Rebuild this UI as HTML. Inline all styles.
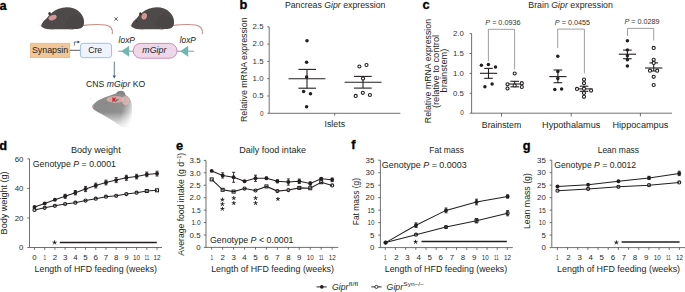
<!DOCTYPE html>
<html><head><meta charset="utf-8"><style>
html,body{margin:0;padding:0;background:#fff;}
svg{display:block;font-family:"Liberation Sans", sans-serif;}
</style></head><body>
<svg width="685" height="292" viewBox="0 0 685 292">
<rect width="685" height="292" fill="#fff"/>
<text x="-0.60" y="9.50" font-size="12.8" font-weight="bold" fill="#000" stroke="#000" stroke-width="0.3">a</text>
<text x="239.40" y="8.70" font-size="12.8" font-weight="bold" fill="#000" stroke="#000" stroke-width="0.3">b</text>
<text x="422.40" y="9.40" font-size="12.8" font-weight="bold" fill="#000" stroke="#000" stroke-width="0.3">c</text>
<text x="-0.70" y="149.50" font-size="12.8" font-weight="bold" fill="#000" stroke="#000" stroke-width="0.3">d</text>
<text x="175.90" y="149.50" font-size="12.8" font-weight="bold" fill="#000" stroke="#000" stroke-width="0.3">e</text>
<text x="351.20" y="149.40" font-size="12.8" font-weight="bold" fill="#000" stroke="#000" stroke-width="0.3">f</text>
<text x="522.80" y="150.00" font-size="12.8" font-weight="bold" fill="#000" stroke="#000" stroke-width="0.3">g</text>
<g transform="translate(0,0)"><path d="M83,25.4 C90,24.6 99,24.1 105.5,25.0 C110.5,25.8 113.2,29 112.3,33.6" fill="none" stroke="#c68c89" stroke-width="1.2" stroke-linecap="round"/><path d="M41.0,25.6 C42.5,22.5 44.5,20 46.5,18.6 C48,16.5 50,14.2 52.5,12.3 C56,9.4 61,7.4 66.6,7.3 C72,7.3 76.5,9 80,12.4 C82.8,15.2 84.3,19 84.1,22.4 C84,25.8 82.6,27.6 80,28.6 C76,29.4 70,29.3 64,29.3 L52,29.3 C48,29.3 45,28.9 43.2,27.8 C42,27.2 41.3,26.5 41.0,25.6 Z" fill="#4e4a49"/><path d="M70,16 C76,14 81,17 83.5,22 C83.5,26 81,28.3 76,28.8 C70,29 66,27 65,24 Z" fill="#3d3837" opacity="0.2"/><ellipse cx="52.6" cy="17.6" rx="4.2" ry="2.5" fill="#cf9896" transform="rotate(-20 52.6 17.6)"/><ellipse cx="49.6" cy="13.6" rx="1.3" ry="1.7" fill="#3a3535"/><path d="M50,29.2 L53.5,29.7 M70,29.2 L73.5,29.6" stroke="#c8918e" stroke-width="0.8"/><path d="M41.2,25 L38.5,23.5 M41.2,25.3 L38.3,25.8" stroke="#ddd" stroke-width="0.3"/></g>
<g transform="translate(90,0)"><path d="M83,25.4 C90,24.6 99,24.1 105.5,25.0 C110.5,25.8 113.2,29 112.3,33.6" fill="none" stroke="#c68c89" stroke-width="1.2" stroke-linecap="round"/><path d="M41.0,25.6 C42.5,22.5 44.5,20 46.5,18.6 C48,16.5 50,14.2 52.5,12.3 C56,9.4 61,7.4 66.6,7.3 C72,7.3 76.5,9 80,12.4 C82.8,15.2 84.3,19 84.1,22.4 C84,25.8 82.6,27.6 80,28.6 C76,29.4 70,29.3 64,29.3 L52,29.3 C48,29.3 45,28.9 43.2,27.8 C42,27.2 41.3,26.5 41.0,25.6 Z" fill="#4e4a49"/><path d="M70,16 C76,14 81,17 83.5,22 C83.5,26 81,28.3 76,28.8 C70,29 66,27 65,24 Z" fill="#3d3837" opacity="0.2"/><ellipse cx="54.2" cy="16.3" rx="2.7" ry="3.3" fill="#cf9896" transform="rotate(15 54.2 16.3)"/><ellipse cx="50.4" cy="13.9" rx="1.3" ry="1.7" fill="#3a3535"/><circle cx="46.7" cy="21.3" r="0.6" fill="#1a1a1a"/><path d="M50,29.2 L53.5,29.7 M70,29.2 L73.5,29.6" stroke="#c8918e" stroke-width="0.8"/><path d="M41.2,25 L38.5,23.5 M41.2,25.3 L38.3,25.8" stroke="#ddd" stroke-width="0.3"/></g>
<path d="M114.5,17.3 L117.7,20.7 M117.7,17.3 L114.5,20.7" stroke="#333" stroke-width="0.8"/>
<rect x="30.4" y="43.2" width="39.4" height="14.5" fill="#f2c797" stroke="#e3ae78" stroke-width="0.6"/>
<text x="50.10" y="53.10" font-size="8.8" text-anchor="middle" textLength="36.2" lengthAdjust="spacingAndGlyphs" fill="#222">Synapsin</text>
<line x1="69.80" y1="50.30" x2="80.40" y2="50.30" stroke="#333" stroke-width="0.8"/>
<path d="M74.3,45.6 L74.3,42 L78.2,42" fill="none" stroke="#2f4163" stroke-width="0.7"/>
<path d="M77.6,40.6 L80,42 L77.6,43.4 Z" fill="#2f4163"/>
<rect x="80.4" y="43.3" width="31.1" height="14.4" rx="2.8" fill="#eef3fd" stroke="#9bbaf2" stroke-width="0.95"/>
<text x="95.20" y="53.10" font-size="8.8" text-anchor="middle" textLength="14" lengthAdjust="spacingAndGlyphs" fill="#222">Cre</text>
<line x1="118.30" y1="51.20" x2="194.10" y2="51.20" stroke="#7a7a7a" stroke-width="0.8"/>
<path d="M121.2,51.2 L129.2,45.8 L129.2,56.8 Z" fill="#6fb7ae"/>
<path d="M180.3,51.2 L188.2,45.8 L188.2,56.8 Z" fill="#6fb7ae"/>
<rect x="133.2" y="43.4" width="43.8" height="14.8" rx="7.4" fill="#eed8e8" stroke="#cb85b8" stroke-width="0.95"/>
<text x="154.40" y="53.00" font-size="8.8" text-anchor="middle" font-style="italic" textLength="24.1" lengthAdjust="spacingAndGlyphs" fill="#222">mGipr</text>
<text x="118.60" y="42.60" font-size="8.4" font-style="italic" textLength="16.4" lengthAdjust="spacingAndGlyphs" fill="#222">loxP</text>
<text x="179.70" y="42.60" font-size="8.4" font-style="italic" textLength="16.1" lengthAdjust="spacingAndGlyphs" fill="#222">loxP</text>
<line x1="114.30" y1="61.60" x2="114.30" y2="76.50" stroke="#3e5a80" stroke-width="0.8"/>
<path d="M112.6,75.5 L114.3,78.6 L116,75.5 Z" fill="#3e5a80"/>
<text x="115.60" y="86.80" font-size="8.7" text-anchor="middle" textLength="59.2" lengthAdjust="spacingAndGlyphs" fill="#222">CNS <tspan font-style="italic">mGipr</tspan> KO</text>
<defs><linearGradient id="hg" gradientUnits="userSpaceOnUse" x1="108" y1="104" x2="134" y2="112"><stop offset="0" stop-color="#8c8b8b"/><stop offset="0.55" stop-color="#929191"/><stop offset="0.85" stop-color="#d2d2d2"/><stop offset="1" stop-color="#ffffff"/></linearGradient><linearGradient id="hg2" gradientUnits="userSpaceOnUse" x1="0" y1="112" x2="0" y2="127"><stop offset="0" stop-color="#fff" stop-opacity="0"/><stop offset="1" stop-color="#fff" stop-opacity="0.9"/></linearGradient></defs>
<path d="M92.1,106.8 C93,103.5 99,99.5 105,97.3 C109,95.8 113,94.8 116,93.6 C117,91.6 119,90.5 121.5,90.8 C124,91.2 125.2,93 125.6,95.2 C128.5,96.2 131,99.2 131.6,104 C132.2,110 132.2,118 131.6,126.5 L122,126.5 C116,122.5 108,117.8 101,113.8 C96,111.2 92.6,109.2 92.1,106.8 Z" fill="url(#hg)"/>
<path d="M92.1,106.8 C93,103.5 99,99.5 105,97.3 C109,95.8 113,94.8 116,93.6 C117,91.6 119,90.5 121.5,90.8 C124,91.2 125.2,93 125.6,95.2 C128.5,96.2 131,99.2 131.6,104 C132.2,110 132.2,118 131.6,126.5 L122,126.5 C116,122.5 108,117.8 101,113.8 C96,111.2 92.6,109.2 92.1,106.8 Z" fill="url(#hg2)"/>
<path d="M116.2,93.8 C117.3,91.8 119.3,90.8 121.5,91 C123.5,91.4 124.8,93 125.2,95 Z" fill="#858383"/>
<ellipse cx="115.5" cy="99.4" rx="9.0" ry="3.4" fill="#ddb0ad" opacity="0.85"/>
<ellipse cx="125.6" cy="100.6" rx="3.8" ry="4.6" fill="#e2b9b5" opacity="0.75"/>
<ellipse cx="105.3" cy="103.2" rx="1.6" ry="1.0" fill="#9a7f7f" opacity="0.8"/>
<ellipse cx="92.8" cy="106.5" rx="0.9" ry="1.2" fill="#d9a7a3"/>
<path d="M92,99 L90.5,97.5 M92.5,99.5 L90.6,99.8" stroke="#ddd" stroke-width="0.35"/>
<text x="115.40" y="100.80" font-size="3.2" text-anchor="middle" fill="#3a2a2a">m  pr</text>
<path d="M112.4,97.6 L115.6,101.6 M115.6,97.6 L112.4,101.6" stroke="#d8232a" stroke-width="1.3"/>
<text x="335.20" y="7.60" font-size="8.2" text-anchor="middle" textLength="100.5" lengthAdjust="spacingAndGlyphs" fill="#231f20">Pancreas <tspan font-style="italic">Gipr</tspan> expression</text>
<text transform="translate(247.00,69.70) rotate(-90)" x="0" y="0" font-size="8.4" text-anchor="middle" textLength="104.6" lengthAdjust="spacingAndGlyphs" fill="#231f20">Relative mRNA expression</text>
<line x1="269.20" y1="26.80" x2="269.20" y2="113.30" stroke="#4d4d4d" stroke-width="0.8"/>
<line x1="269.20" y1="113.30" x2="400.40" y2="113.30" stroke="#4d4d4d" stroke-width="0.8"/>
<line x1="267.30" y1="113.30" x2="269.20" y2="113.30" stroke="#4d4d4d" stroke-width="0.8"/>
<text x="263.50" y="115.50" font-size="6.4" text-anchor="end" fill="#333">0</text>
<line x1="267.30" y1="96.00" x2="269.20" y2="96.00" stroke="#4d4d4d" stroke-width="0.8"/>
<text x="263.50" y="98.20" font-size="6.4" text-anchor="end" textLength="10.9" lengthAdjust="spacingAndGlyphs" fill="#333">0.5</text>
<line x1="267.30" y1="78.70" x2="269.20" y2="78.70" stroke="#4d4d4d" stroke-width="0.8"/>
<text x="263.50" y="80.90" font-size="6.4" text-anchor="end" textLength="10.9" lengthAdjust="spacingAndGlyphs" fill="#333">1.0</text>
<line x1="267.30" y1="61.40" x2="269.20" y2="61.40" stroke="#4d4d4d" stroke-width="0.8"/>
<text x="263.50" y="63.60" font-size="6.4" text-anchor="end" textLength="10.9" lengthAdjust="spacingAndGlyphs" fill="#333">1.5</text>
<line x1="267.30" y1="44.10" x2="269.20" y2="44.10" stroke="#4d4d4d" stroke-width="0.8"/>
<text x="263.50" y="46.30" font-size="6.4" text-anchor="end" textLength="10.9" lengthAdjust="spacingAndGlyphs" fill="#333">2.0</text>
<line x1="267.30" y1="26.80" x2="269.20" y2="26.80" stroke="#4d4d4d" stroke-width="0.8"/>
<text x="263.50" y="29.00" font-size="6.4" text-anchor="end" textLength="10.9" lengthAdjust="spacingAndGlyphs" fill="#333">2.5</text>
<line x1="334.70" y1="113.30" x2="334.70" y2="115.60" stroke="#4d4d4d" stroke-width="0.8"/>
<text x="334.80" y="127.00" font-size="8.4" text-anchor="middle" textLength="20.5" lengthAdjust="spacingAndGlyphs" fill="#231f20">Islets</text>
<circle cx="307.00" cy="40.70" r="1.75" fill="#231f20"/>
<circle cx="306.60" cy="62.30" r="1.75" fill="#231f20"/>
<circle cx="306.60" cy="77.10" r="1.75" fill="#231f20"/>
<circle cx="303.60" cy="91.60" r="1.75" fill="#231f20"/>
<circle cx="310.50" cy="93.80" r="1.75" fill="#231f20"/>
<circle cx="306.60" cy="106.70" r="1.75" fill="#231f20"/>
<line x1="288.50" y1="78.70" x2="325.40" y2="78.70" stroke="#231f20" stroke-width="1.1"/>
<line x1="298.40" y1="69.40" x2="316.00" y2="69.40" stroke="#231f20" stroke-width="1.1"/>
<line x1="298.40" y1="88.20" x2="316.00" y2="88.20" stroke="#231f20" stroke-width="1.1"/>
<line x1="307.00" y1="69.40" x2="307.00" y2="88.20" stroke="#231f20" stroke-width="1.1"/>
<line x1="344.60" y1="82.30" x2="381.60" y2="82.30" stroke="#231f20" stroke-width="1.1"/>
<line x1="354.00" y1="76.40" x2="371.70" y2="76.40" stroke="#231f20" stroke-width="1.1"/>
<line x1="354.00" y1="88.10" x2="371.70" y2="88.10" stroke="#231f20" stroke-width="1.1"/>
<line x1="363.00" y1="76.40" x2="363.00" y2="88.10" stroke="#231f20" stroke-width="1.1"/>
<circle cx="359.40" cy="66.50" r="1.55" fill="#fff" stroke="#231f20" stroke-width="1.1"/>
<circle cx="366.50" cy="65.00" r="1.55" fill="#fff" stroke="#231f20" stroke-width="1.1"/>
<circle cx="363.00" cy="78.60" r="1.55" fill="#fff" stroke="#231f20" stroke-width="1.1"/>
<circle cx="355.70" cy="95.90" r="1.55" fill="#fff" stroke="#231f20" stroke-width="1.1"/>
<circle cx="362.80" cy="92.80" r="1.55" fill="#fff" stroke="#231f20" stroke-width="1.1"/>
<circle cx="369.90" cy="95.00" r="1.55" fill="#fff" stroke="#231f20" stroke-width="1.1"/>
<text x="570.60" y="7.60" font-size="8.2" text-anchor="middle" textLength="84.6" lengthAdjust="spacingAndGlyphs" fill="#231f20">Brain <tspan font-style="italic">Gipr</tspan> expression</text>
<text transform="translate(430.90,71.10) rotate(-90)" x="0" y="0" font-size="8.4" text-anchor="middle" textLength="104.2" lengthAdjust="spacingAndGlyphs" fill="#231f20">Relative mRNA expression</text>
<text transform="translate(438.60,71.50) rotate(-90)" x="0" y="0" font-size="8.4" text-anchor="middle" textLength="73.2" lengthAdjust="spacingAndGlyphs" fill="#231f20">(relative to control</text>
<text transform="translate(446.80,70.50) rotate(-90)" x="0" y="0" font-size="8.4" text-anchor="middle" textLength="43.8" lengthAdjust="spacingAndGlyphs" fill="#231f20">brainstem)</text>
<line x1="471.60" y1="33.60" x2="471.60" y2="113.20" stroke="#4d4d4d" stroke-width="0.8"/>
<line x1="471.60" y1="113.20" x2="672.00" y2="113.20" stroke="#4d4d4d" stroke-width="0.8"/>
<line x1="469.60" y1="113.20" x2="471.60" y2="113.20" stroke="#4d4d4d" stroke-width="0.8"/>
<text x="463.80" y="115.40" font-size="6.4" text-anchor="end" fill="#333">0</text>
<line x1="469.60" y1="93.30" x2="471.60" y2="93.30" stroke="#4d4d4d" stroke-width="0.8"/>
<text x="463.80" y="95.50" font-size="6.4" text-anchor="end" textLength="10.9" lengthAdjust="spacingAndGlyphs" fill="#333">0.5</text>
<line x1="469.60" y1="73.40" x2="471.60" y2="73.40" stroke="#4d4d4d" stroke-width="0.8"/>
<text x="463.80" y="75.60" font-size="6.4" text-anchor="end" textLength="10.9" lengthAdjust="spacingAndGlyphs" fill="#333">1.0</text>
<line x1="469.60" y1="53.50" x2="471.60" y2="53.50" stroke="#4d4d4d" stroke-width="0.8"/>
<text x="463.80" y="55.70" font-size="6.4" text-anchor="end" textLength="10.9" lengthAdjust="spacingAndGlyphs" fill="#333">1.5</text>
<line x1="469.60" y1="33.60" x2="471.60" y2="33.60" stroke="#4d4d4d" stroke-width="0.8"/>
<text x="463.80" y="35.80" font-size="6.4" text-anchor="end" textLength="10.9" lengthAdjust="spacingAndGlyphs" fill="#333">2.0</text>
<line x1="501.50" y1="113.20" x2="501.50" y2="116.50" stroke="#4d4d4d" stroke-width="0.8"/>
<text x="501.50" y="128.00" font-size="8.4" text-anchor="middle" textLength="39.4" lengthAdjust="spacingAndGlyphs" fill="#231f20">Brainstem</text>
<line x1="571.20" y1="113.20" x2="571.20" y2="116.50" stroke="#4d4d4d" stroke-width="0.8"/>
<text x="571.20" y="128.00" font-size="8.4" text-anchor="middle" textLength="58.3" lengthAdjust="spacingAndGlyphs" fill="#231f20">Hypothalamus</text>
<line x1="640.40" y1="113.20" x2="640.40" y2="116.50" stroke="#4d4d4d" stroke-width="0.8"/>
<text x="640.40" y="128.00" font-size="8.4" text-anchor="middle" textLength="55.8" lengthAdjust="spacingAndGlyphs" fill="#231f20">Hippocampus</text>
<path d="M488.4,61.2 L488.4,29.3 L514.6,29.3 L514.6,69.4" fill="none" stroke="#6b6b6b" stroke-width="0.65"/>
<text x="502.90" y="25.40" font-size="6.6" text-anchor="middle" textLength="35.2" lengthAdjust="spacingAndGlyphs" fill="#333"><tspan font-style="italic">P</tspan> = 0.0936</text>
<path d="M557.7,48.0 L557.7,29.1 L584.4,29.1 L584.4,73.3" fill="none" stroke="#6b6b6b" stroke-width="0.65"/>
<text x="572.45" y="25.40" font-size="6.6" text-anchor="middle" textLength="35.2" lengthAdjust="spacingAndGlyphs" fill="#333"><tspan font-style="italic">P</tspan> = 0.0455</text>
<path d="M627.5,36.0 L627.5,28.4 L653.7,28.4 L653.7,40.6" fill="none" stroke="#6b6b6b" stroke-width="0.65"/>
<text x="642.00" y="24.30" font-size="6.6" text-anchor="middle" textLength="35.2" lengthAdjust="spacingAndGlyphs" fill="#333"><tspan font-style="italic">P</tspan> = 0.0289</text>
<line x1="479.90" y1="73.30" x2="497.10" y2="73.30" stroke="#231f20" stroke-width="1.1"/>
<line x1="484.20" y1="68.40" x2="492.80" y2="68.40" stroke="#231f20" stroke-width="1.1"/>
<line x1="484.20" y1="78.30" x2="492.80" y2="78.30" stroke="#231f20" stroke-width="1.1"/>
<line x1="488.50" y1="68.40" x2="488.50" y2="78.30" stroke="#231f20" stroke-width="1.1"/>
<circle cx="481.40" cy="65.30" r="1.75" fill="#231f20"/>
<circle cx="488.40" cy="64.60" r="1.75" fill="#231f20"/>
<circle cx="495.50" cy="67.10" r="1.75" fill="#231f20"/>
<circle cx="484.90" cy="86.80" r="1.75" fill="#231f20"/>
<circle cx="492.10" cy="84.00" r="1.75" fill="#231f20"/>
<line x1="506.10" y1="84.00" x2="523.30" y2="84.00" stroke="#231f20" stroke-width="1.1"/>
<line x1="510.40" y1="81.30" x2="519.00" y2="81.30" stroke="#231f20" stroke-width="1.1"/>
<line x1="510.40" y1="86.80" x2="519.00" y2="86.80" stroke="#231f20" stroke-width="1.1"/>
<line x1="514.70" y1="81.30" x2="514.70" y2="86.80" stroke="#231f20" stroke-width="1.1"/>
<circle cx="514.70" cy="73.50" r="1.55" fill="#fff" stroke="#231f20" stroke-width="1.1"/>
<circle cx="507.50" cy="84.30" r="1.55" fill="#fff" stroke="#231f20" stroke-width="1.1"/>
<circle cx="507.50" cy="88.50" r="1.55" fill="#fff" stroke="#231f20" stroke-width="1.1"/>
<circle cx="514.70" cy="85.50" r="1.55" fill="#fff" stroke="#231f20" stroke-width="1.1"/>
<circle cx="521.80" cy="83.20" r="1.55" fill="#fff" stroke="#231f20" stroke-width="1.1"/>
<circle cx="521.80" cy="87.00" r="1.55" fill="#fff" stroke="#231f20" stroke-width="1.1"/>
<line x1="549.30" y1="76.60" x2="566.50" y2="76.60" stroke="#231f20" stroke-width="1.1"/>
<line x1="553.60" y1="70.00" x2="562.20" y2="70.00" stroke="#231f20" stroke-width="1.1"/>
<line x1="553.60" y1="82.70" x2="562.20" y2="82.70" stroke="#231f20" stroke-width="1.1"/>
<line x1="557.90" y1="70.00" x2="557.90" y2="82.70" stroke="#231f20" stroke-width="1.1"/>
<circle cx="557.80" cy="56.30" r="1.75" fill="#231f20"/>
<circle cx="557.80" cy="71.40" r="1.75" fill="#231f20"/>
<circle cx="557.80" cy="78.50" r="1.75" fill="#231f20"/>
<circle cx="554.80" cy="89.40" r="1.75" fill="#231f20"/>
<circle cx="561.60" cy="88.90" r="1.75" fill="#231f20"/>
<line x1="575.40" y1="88.90" x2="592.60" y2="88.90" stroke="#231f20" stroke-width="1.1"/>
<line x1="579.70" y1="86.20" x2="588.30" y2="86.20" stroke="#231f20" stroke-width="1.1"/>
<line x1="579.70" y1="91.30" x2="588.30" y2="91.30" stroke="#231f20" stroke-width="1.1"/>
<line x1="584.00" y1="86.20" x2="584.00" y2="91.30" stroke="#231f20" stroke-width="1.1"/>
<circle cx="584.00" cy="79.50" r="1.55" fill="#fff" stroke="#231f20" stroke-width="1.1"/>
<circle cx="584.00" cy="83.20" r="1.55" fill="#fff" stroke="#231f20" stroke-width="1.1"/>
<circle cx="584.00" cy="88.70" r="1.55" fill="#fff" stroke="#231f20" stroke-width="1.1"/>
<circle cx="584.00" cy="93.00" r="1.55" fill="#fff" stroke="#231f20" stroke-width="1.1"/>
<circle cx="584.00" cy="96.80" r="1.55" fill="#fff" stroke="#231f20" stroke-width="1.1"/>
<circle cx="577.00" cy="88.90" r="1.55" fill="#fff" stroke="#231f20" stroke-width="1.1"/>
<circle cx="591.10" cy="90.60" r="1.55" fill="#fff" stroke="#231f20" stroke-width="1.1"/>
<line x1="618.80" y1="54.20" x2="636.00" y2="54.20" stroke="#231f20" stroke-width="1.1"/>
<line x1="623.10" y1="50.10" x2="631.70" y2="50.10" stroke="#231f20" stroke-width="1.1"/>
<line x1="623.10" y1="58.70" x2="631.70" y2="58.70" stroke="#231f20" stroke-width="1.1"/>
<line x1="627.40" y1="50.10" x2="627.40" y2="58.70" stroke="#231f20" stroke-width="1.1"/>
<circle cx="627.40" cy="40.70" r="1.75" fill="#231f20"/>
<circle cx="627.40" cy="50.10" r="1.75" fill="#231f20"/>
<circle cx="627.40" cy="55.70" r="1.75" fill="#231f20"/>
<circle cx="627.40" cy="59.80" r="1.75" fill="#231f20"/>
<circle cx="627.40" cy="65.90" r="1.75" fill="#231f20"/>
<line x1="645.10" y1="68.00" x2="662.30" y2="68.00" stroke="#231f20" stroke-width="1.1"/>
<line x1="649.40" y1="62.90" x2="658.00" y2="62.90" stroke="#231f20" stroke-width="1.1"/>
<line x1="649.40" y1="71.00" x2="658.00" y2="71.00" stroke="#231f20" stroke-width="1.1"/>
<line x1="653.70" y1="62.90" x2="653.70" y2="71.00" stroke="#231f20" stroke-width="1.1"/>
<circle cx="653.70" cy="47.90" r="1.55" fill="#fff" stroke="#231f20" stroke-width="1.1"/>
<circle cx="653.70" cy="59.80" r="1.55" fill="#fff" stroke="#231f20" stroke-width="1.1"/>
<circle cx="653.70" cy="62.90" r="1.55" fill="#fff" stroke="#231f20" stroke-width="1.1"/>
<circle cx="650.00" cy="70.70" r="1.55" fill="#fff" stroke="#231f20" stroke-width="1.1"/>
<circle cx="657.20" cy="70.70" r="1.55" fill="#fff" stroke="#231f20" stroke-width="1.1"/>
<circle cx="653.70" cy="76.80" r="1.55" fill="#fff" stroke="#231f20" stroke-width="1.1"/>
<circle cx="653.70" cy="85.00" r="1.55" fill="#fff" stroke="#231f20" stroke-width="1.1"/>
<line x1="29.50" y1="158.90" x2="29.50" y2="247.50" stroke="#4d4d4d" stroke-width="0.8"/>
<line x1="29.50" y1="247.50" x2="162.00" y2="247.50" stroke="#4d4d4d" stroke-width="0.8"/>
<line x1="27.30" y1="247.50" x2="29.50" y2="247.50" stroke="#4d4d4d" stroke-width="0.8"/>
<text x="23.50" y="250.30" font-size="7.9" text-anchor="end" textLength="4.39" lengthAdjust="spacingAndGlyphs" fill="#2b2b2b">0</text>
<line x1="27.30" y1="217.97" x2="29.50" y2="217.97" stroke="#4d4d4d" stroke-width="0.8"/>
<text x="23.50" y="220.77" font-size="7.9" text-anchor="end" textLength="8.79" lengthAdjust="spacingAndGlyphs" fill="#2b2b2b">20</text>
<line x1="27.30" y1="188.43" x2="29.50" y2="188.43" stroke="#4d4d4d" stroke-width="0.8"/>
<text x="23.50" y="191.23" font-size="7.9" text-anchor="end" textLength="8.79" lengthAdjust="spacingAndGlyphs" fill="#2b2b2b">40</text>
<line x1="27.30" y1="158.90" x2="29.50" y2="158.90" stroke="#4d4d4d" stroke-width="0.8"/>
<text x="23.50" y="161.70" font-size="7.9" text-anchor="end" textLength="8.79" lengthAdjust="spacingAndGlyphs" fill="#2b2b2b">60</text>
<line x1="34.50" y1="247.50" x2="34.50" y2="249.80" stroke="#4d4d4d" stroke-width="0.8"/>
<line x1="44.71" y1="247.50" x2="44.71" y2="249.80" stroke="#4d4d4d" stroke-width="0.8"/>
<line x1="54.92" y1="247.50" x2="54.92" y2="249.80" stroke="#4d4d4d" stroke-width="0.8"/>
<line x1="65.13" y1="247.50" x2="65.13" y2="249.80" stroke="#4d4d4d" stroke-width="0.8"/>
<line x1="75.34" y1="247.50" x2="75.34" y2="249.80" stroke="#4d4d4d" stroke-width="0.8"/>
<line x1="85.55" y1="247.50" x2="85.55" y2="249.80" stroke="#4d4d4d" stroke-width="0.8"/>
<line x1="95.76" y1="247.50" x2="95.76" y2="249.80" stroke="#4d4d4d" stroke-width="0.8"/>
<line x1="105.97" y1="247.50" x2="105.97" y2="249.80" stroke="#4d4d4d" stroke-width="0.8"/>
<line x1="116.18" y1="247.50" x2="116.18" y2="249.80" stroke="#4d4d4d" stroke-width="0.8"/>
<line x1="126.39" y1="247.50" x2="126.39" y2="249.80" stroke="#4d4d4d" stroke-width="0.8"/>
<line x1="136.60" y1="247.50" x2="136.60" y2="249.80" stroke="#4d4d4d" stroke-width="0.8"/>
<line x1="146.81" y1="247.50" x2="146.81" y2="249.80" stroke="#4d4d4d" stroke-width="0.8"/>
<line x1="157.02" y1="247.50" x2="157.02" y2="249.80" stroke="#4d4d4d" stroke-width="0.8"/>
<text x="34.50" y="260.10" font-size="7.9" text-anchor="middle" textLength="4.39" lengthAdjust="spacingAndGlyphs" fill="#2b2b2b">0</text>
<text x="44.71" y="260.10" font-size="7.9" text-anchor="middle" textLength="2.59" lengthAdjust="spacingAndGlyphs" fill="#2b2b2b">1</text>
<text x="54.92" y="260.10" font-size="7.9" text-anchor="middle" textLength="4.39" lengthAdjust="spacingAndGlyphs" fill="#2b2b2b">2</text>
<text x="65.13" y="260.10" font-size="7.9" text-anchor="middle" textLength="4.39" lengthAdjust="spacingAndGlyphs" fill="#2b2b2b">3</text>
<text x="75.34" y="260.10" font-size="7.9" text-anchor="middle" textLength="4.39" lengthAdjust="spacingAndGlyphs" fill="#2b2b2b">4</text>
<text x="85.55" y="260.10" font-size="7.9" text-anchor="middle" textLength="4.39" lengthAdjust="spacingAndGlyphs" fill="#2b2b2b">5</text>
<text x="95.76" y="260.10" font-size="7.9" text-anchor="middle" textLength="4.39" lengthAdjust="spacingAndGlyphs" fill="#2b2b2b">6</text>
<text x="105.97" y="260.10" font-size="7.9" text-anchor="middle" textLength="4.39" lengthAdjust="spacingAndGlyphs" fill="#2b2b2b">7</text>
<text x="116.18" y="260.10" font-size="7.9" text-anchor="middle" textLength="4.39" lengthAdjust="spacingAndGlyphs" fill="#2b2b2b">8</text>
<text x="126.39" y="260.10" font-size="7.9" text-anchor="middle" textLength="4.39" lengthAdjust="spacingAndGlyphs" fill="#2b2b2b">9</text>
<text x="136.60" y="260.10" font-size="7.9" text-anchor="middle" textLength="6.99" lengthAdjust="spacingAndGlyphs" fill="#2b2b2b">10</text>
<text x="146.81" y="260.10" font-size="7.9" text-anchor="middle" textLength="4.60" lengthAdjust="spacingAndGlyphs" fill="#2b2b2b">11</text>
<text x="157.02" y="260.10" font-size="7.9" text-anchor="middle" textLength="6.99" lengthAdjust="spacingAndGlyphs" fill="#2b2b2b">12</text>
<text x="95.80" y="153.10" font-size="8.6" text-anchor="middle" textLength="49.8" lengthAdjust="spacingAndGlyphs" fill="#231f20">Body weight</text>
<text x="32.80" y="167.10" font-size="8.6" textLength="83.2" lengthAdjust="spacingAndGlyphs" fill="#231f20">Genotype <tspan font-style="italic">P</tspan> = 0.0001</text>
<text transform="translate(6.90,202.90) rotate(-90)" x="0" y="0" font-size="8.4" text-anchor="middle" textLength="63" lengthAdjust="spacingAndGlyphs" fill="#231f20">Body weight (g)</text>
<polyline points="34.50,209.90 44.71,207.80 54.92,205.80 65.13,204.00 75.34,202.70 85.55,200.60 95.76,198.70 105.97,196.70 116.18,195.80 126.39,194.10 136.60,192.70 146.81,191.00 157.02,190.30" fill="none" stroke="#231f20" stroke-width="1.05"/>
<circle cx="34.50" cy="209.90" r="1.55" fill="none" stroke="#231f20" stroke-width="1.1"/>
<circle cx="44.71" cy="207.80" r="1.55" fill="none" stroke="#231f20" stroke-width="1.1"/>
<circle cx="54.92" cy="205.80" r="1.55" fill="none" stroke="#231f20" stroke-width="1.1"/>
<circle cx="65.13" cy="204.00" r="1.55" fill="none" stroke="#231f20" stroke-width="1.1"/>
<circle cx="75.34" cy="202.70" r="1.55" fill="none" stroke="#231f20" stroke-width="1.1"/>
<circle cx="85.55" cy="200.60" r="1.55" fill="none" stroke="#231f20" stroke-width="1.1"/>
<circle cx="95.76" cy="198.70" r="1.55" fill="none" stroke="#231f20" stroke-width="1.1"/>
<circle cx="105.97" cy="196.70" r="1.55" fill="none" stroke="#231f20" stroke-width="1.1"/>
<circle cx="116.18" cy="195.80" r="1.55" fill="none" stroke="#231f20" stroke-width="1.1"/>
<circle cx="126.39" cy="194.10" r="1.55" fill="none" stroke="#231f20" stroke-width="1.1"/>
<circle cx="136.60" cy="192.70" r="1.55" fill="none" stroke="#231f20" stroke-width="1.1"/>
<rect x="145.31" y="189.50" width="3.0" height="3.0" fill="none" stroke="#231f20" stroke-width="1.05"/>
<rect x="155.52" y="188.80" width="3.0" height="3.0" fill="none" stroke="#231f20" stroke-width="1.05"/>
<polyline points="34.50,207.00 44.71,203.50 54.92,199.80 65.13,196.30 75.34,192.70 85.55,189.00 95.76,185.50 105.97,182.50 116.18,180.10 126.39,177.80 136.60,176.60 146.81,174.40 157.02,173.60" fill="none" stroke="#231f20" stroke-width="1.05"/>
<circle cx="34.50" cy="207.00" r="1.95" fill="#231f20"/>
<circle cx="44.71" cy="203.50" r="1.95" fill="#231f20"/>
<circle cx="54.92" cy="199.80" r="1.95" fill="#231f20"/>
<line x1="65.13" y1="194.30" x2="65.13" y2="198.30" stroke="#231f20" stroke-width="0.9"/>
<line x1="63.63" y1="194.30" x2="66.63" y2="194.30" stroke="#231f20" stroke-width="0.9"/>
<line x1="63.63" y1="198.30" x2="66.63" y2="198.30" stroke="#231f20" stroke-width="0.9"/>
<circle cx="65.13" cy="196.30" r="1.95" fill="#231f20"/>
<line x1="75.34" y1="190.50" x2="75.34" y2="194.90" stroke="#231f20" stroke-width="0.9"/>
<line x1="73.84" y1="190.50" x2="76.84" y2="190.50" stroke="#231f20" stroke-width="0.9"/>
<line x1="73.84" y1="194.90" x2="76.84" y2="194.90" stroke="#231f20" stroke-width="0.9"/>
<circle cx="75.34" cy="192.70" r="1.95" fill="#231f20"/>
<line x1="85.55" y1="186.40" x2="85.55" y2="191.60" stroke="#231f20" stroke-width="0.9"/>
<line x1="84.05" y1="186.40" x2="87.05" y2="186.40" stroke="#231f20" stroke-width="0.9"/>
<line x1="84.05" y1="191.60" x2="87.05" y2="191.60" stroke="#231f20" stroke-width="0.9"/>
<circle cx="85.55" cy="189.00" r="1.95" fill="#231f20"/>
<line x1="95.76" y1="183.10" x2="95.76" y2="187.90" stroke="#231f20" stroke-width="0.9"/>
<line x1="94.26" y1="183.10" x2="97.26" y2="183.10" stroke="#231f20" stroke-width="0.9"/>
<line x1="94.26" y1="187.90" x2="97.26" y2="187.90" stroke="#231f20" stroke-width="0.9"/>
<circle cx="95.76" cy="185.50" r="1.95" fill="#231f20"/>
<line x1="105.97" y1="180.10" x2="105.97" y2="184.90" stroke="#231f20" stroke-width="0.9"/>
<line x1="104.47" y1="180.10" x2="107.47" y2="180.10" stroke="#231f20" stroke-width="0.9"/>
<line x1="104.47" y1="184.90" x2="107.47" y2="184.90" stroke="#231f20" stroke-width="0.9"/>
<circle cx="105.97" cy="182.50" r="1.95" fill="#231f20"/>
<line x1="116.18" y1="177.60" x2="116.18" y2="182.60" stroke="#231f20" stroke-width="0.9"/>
<line x1="114.68" y1="177.60" x2="117.68" y2="177.60" stroke="#231f20" stroke-width="0.9"/>
<line x1="114.68" y1="182.60" x2="117.68" y2="182.60" stroke="#231f20" stroke-width="0.9"/>
<circle cx="116.18" cy="180.10" r="1.95" fill="#231f20"/>
<line x1="126.39" y1="175.30" x2="126.39" y2="180.30" stroke="#231f20" stroke-width="0.9"/>
<line x1="124.89" y1="175.30" x2="127.89" y2="175.30" stroke="#231f20" stroke-width="0.9"/>
<line x1="124.89" y1="180.30" x2="127.89" y2="180.30" stroke="#231f20" stroke-width="0.9"/>
<circle cx="126.39" cy="177.80" r="1.95" fill="#231f20"/>
<line x1="136.60" y1="174.30" x2="136.60" y2="178.90" stroke="#231f20" stroke-width="0.9"/>
<line x1="135.10" y1="174.30" x2="138.10" y2="174.30" stroke="#231f20" stroke-width="0.9"/>
<line x1="135.10" y1="178.90" x2="138.10" y2="178.90" stroke="#231f20" stroke-width="0.9"/>
<circle cx="136.60" cy="176.60" r="1.95" fill="#231f20"/>
<line x1="146.81" y1="172.10" x2="146.81" y2="176.70" stroke="#231f20" stroke-width="0.9"/>
<line x1="145.31" y1="172.10" x2="148.31" y2="172.10" stroke="#231f20" stroke-width="0.9"/>
<line x1="145.31" y1="176.70" x2="148.31" y2="176.70" stroke="#231f20" stroke-width="0.9"/>
<circle cx="146.81" cy="174.40" r="1.95" fill="#231f20"/>
<line x1="157.02" y1="171.20" x2="157.02" y2="176.00" stroke="#231f20" stroke-width="0.9"/>
<line x1="155.52" y1="171.20" x2="158.52" y2="171.20" stroke="#231f20" stroke-width="0.9"/>
<line x1="155.52" y1="176.00" x2="158.52" y2="176.00" stroke="#231f20" stroke-width="0.9"/>
<circle cx="157.02" cy="173.60" r="1.95" fill="#231f20"/>
<path d="M54.60,242.60 L54.60,240.85 M54.60,242.60 L56.26,242.06 M54.60,242.60 L55.63,244.02 M54.60,242.60 L53.57,244.02 M54.60,242.60 L52.94,242.06 " stroke="#231f20" stroke-width="1.0" stroke-linecap="round" fill="none"/>
<line x1="59.80" y1="242.50" x2="156.80" y2="242.50" stroke="#231f20" stroke-width="1.5"/>
<text x="95.80" y="271.80" font-size="8.6" text-anchor="middle" textLength="122.5" lengthAdjust="spacingAndGlyphs" fill="#231f20">Length of HFD feeding (weeks)</text>
<line x1="206.00" y1="160.39" x2="206.00" y2="247.40" stroke="#4d4d4d" stroke-width="0.8"/>
<line x1="206.00" y1="247.40" x2="338.30" y2="247.40" stroke="#4d4d4d" stroke-width="0.8"/>
<line x1="203.80" y1="247.40" x2="206.00" y2="247.40" stroke="#4d4d4d" stroke-width="0.8"/>
<text x="200.60" y="250.20" font-size="7.9" text-anchor="end" textLength="4.39" lengthAdjust="spacingAndGlyphs" fill="#2b2b2b">0</text>
<line x1="203.80" y1="234.97" x2="206.00" y2="234.97" stroke="#4d4d4d" stroke-width="0.8"/>
<text x="200.60" y="237.77" font-size="7.9" text-anchor="end" textLength="10.98" lengthAdjust="spacingAndGlyphs" fill="#2b2b2b">0.5</text>
<line x1="203.80" y1="222.54" x2="206.00" y2="222.54" stroke="#4d4d4d" stroke-width="0.8"/>
<text x="200.60" y="225.34" font-size="7.9" text-anchor="end" textLength="9.18" lengthAdjust="spacingAndGlyphs" fill="#2b2b2b">1.0</text>
<line x1="203.80" y1="210.11" x2="206.00" y2="210.11" stroke="#4d4d4d" stroke-width="0.8"/>
<text x="200.60" y="212.91" font-size="7.9" text-anchor="end" textLength="9.18" lengthAdjust="spacingAndGlyphs" fill="#2b2b2b">1.5</text>
<line x1="203.80" y1="197.68" x2="206.00" y2="197.68" stroke="#4d4d4d" stroke-width="0.8"/>
<text x="200.60" y="200.48" font-size="7.9" text-anchor="end" textLength="10.98" lengthAdjust="spacingAndGlyphs" fill="#2b2b2b">2.0</text>
<line x1="203.80" y1="185.25" x2="206.00" y2="185.25" stroke="#4d4d4d" stroke-width="0.8"/>
<text x="200.60" y="188.05" font-size="7.9" text-anchor="end" textLength="10.98" lengthAdjust="spacingAndGlyphs" fill="#2b2b2b">2.5</text>
<line x1="203.80" y1="172.82" x2="206.00" y2="172.82" stroke="#4d4d4d" stroke-width="0.8"/>
<text x="200.60" y="175.62" font-size="7.9" text-anchor="end" textLength="10.98" lengthAdjust="spacingAndGlyphs" fill="#2b2b2b">3.0</text>
<line x1="203.80" y1="160.39" x2="206.00" y2="160.39" stroke="#4d4d4d" stroke-width="0.8"/>
<text x="200.60" y="163.19" font-size="7.9" text-anchor="end" textLength="10.98" lengthAdjust="spacingAndGlyphs" fill="#2b2b2b">3.5</text>
<line x1="211.70" y1="247.40" x2="211.70" y2="249.70" stroke="#4d4d4d" stroke-width="0.8"/>
<line x1="222.65" y1="247.40" x2="222.65" y2="249.70" stroke="#4d4d4d" stroke-width="0.8"/>
<line x1="233.60" y1="247.40" x2="233.60" y2="249.70" stroke="#4d4d4d" stroke-width="0.8"/>
<line x1="244.55" y1="247.40" x2="244.55" y2="249.70" stroke="#4d4d4d" stroke-width="0.8"/>
<line x1="255.50" y1="247.40" x2="255.50" y2="249.70" stroke="#4d4d4d" stroke-width="0.8"/>
<line x1="266.45" y1="247.40" x2="266.45" y2="249.70" stroke="#4d4d4d" stroke-width="0.8"/>
<line x1="277.40" y1="247.40" x2="277.40" y2="249.70" stroke="#4d4d4d" stroke-width="0.8"/>
<line x1="288.35" y1="247.40" x2="288.35" y2="249.70" stroke="#4d4d4d" stroke-width="0.8"/>
<line x1="299.30" y1="247.40" x2="299.30" y2="249.70" stroke="#4d4d4d" stroke-width="0.8"/>
<line x1="310.25" y1="247.40" x2="310.25" y2="249.70" stroke="#4d4d4d" stroke-width="0.8"/>
<line x1="321.20" y1="247.40" x2="321.20" y2="249.70" stroke="#4d4d4d" stroke-width="0.8"/>
<line x1="332.15" y1="247.40" x2="332.15" y2="249.70" stroke="#4d4d4d" stroke-width="0.8"/>
<text x="211.70" y="260.00" font-size="7.9" text-anchor="middle" textLength="2.59" lengthAdjust="spacingAndGlyphs" fill="#2b2b2b">1</text>
<text x="222.65" y="260.00" font-size="7.9" text-anchor="middle" textLength="4.39" lengthAdjust="spacingAndGlyphs" fill="#2b2b2b">2</text>
<text x="233.60" y="260.00" font-size="7.9" text-anchor="middle" textLength="4.39" lengthAdjust="spacingAndGlyphs" fill="#2b2b2b">3</text>
<text x="244.55" y="260.00" font-size="7.9" text-anchor="middle" textLength="4.39" lengthAdjust="spacingAndGlyphs" fill="#2b2b2b">4</text>
<text x="255.50" y="260.00" font-size="7.9" text-anchor="middle" textLength="4.39" lengthAdjust="spacingAndGlyphs" fill="#2b2b2b">5</text>
<text x="266.45" y="260.00" font-size="7.9" text-anchor="middle" textLength="4.39" lengthAdjust="spacingAndGlyphs" fill="#2b2b2b">6</text>
<text x="277.40" y="260.00" font-size="7.9" text-anchor="middle" textLength="4.39" lengthAdjust="spacingAndGlyphs" fill="#2b2b2b">7</text>
<text x="288.35" y="260.00" font-size="7.9" text-anchor="middle" textLength="4.39" lengthAdjust="spacingAndGlyphs" fill="#2b2b2b">8</text>
<text x="299.30" y="260.00" font-size="7.9" text-anchor="middle" textLength="4.39" lengthAdjust="spacingAndGlyphs" fill="#2b2b2b">9</text>
<text x="310.25" y="260.00" font-size="7.9" text-anchor="middle" textLength="6.99" lengthAdjust="spacingAndGlyphs" fill="#2b2b2b">10</text>
<text x="321.20" y="260.00" font-size="7.9" text-anchor="middle" textLength="4.60" lengthAdjust="spacingAndGlyphs" fill="#2b2b2b">11</text>
<text x="332.15" y="260.00" font-size="7.9" text-anchor="middle" textLength="6.99" lengthAdjust="spacingAndGlyphs" fill="#2b2b2b">12</text>
<text x="272.60" y="153.10" font-size="8.6" text-anchor="middle" textLength="66.7" lengthAdjust="spacingAndGlyphs" fill="#231f20">Daily food intake</text>
<text x="210.00" y="242.90" font-size="8.6" textLength="83.5" lengthAdjust="spacingAndGlyphs" fill="#231f20">Genotype <tspan font-style="italic">P</tspan> &lt; 0.0001</text>
<text transform="translate(183.60,204.20) rotate(-90)" x="0" y="0" font-size="8.4" text-anchor="middle" textLength="102.9" lengthAdjust="spacingAndGlyphs" fill="#231f20">Average food intake (g d<tspan dy="-2.6" font-size="5.6">–1</tspan><tspan dy="2.6">)</tspan></text>
<polyline points="211.70,179.40 222.65,189.80 233.60,191.60 244.55,188.60 255.50,190.50 266.45,186.40 277.40,191.10 288.35,190.10 299.30,187.90 310.25,188.20 321.20,182.20 332.15,185.40" fill="none" stroke="#231f20" stroke-width="1.05"/>
<rect x="210.20" y="177.90" width="3.0" height="3.0" fill="none" stroke="#231f20" stroke-width="1.05"/>
<rect x="221.15" y="188.30" width="3.0" height="3.0" fill="none" stroke="#231f20" stroke-width="1.05"/>
<rect x="232.10" y="190.10" width="3.0" height="3.0" fill="none" stroke="#231f20" stroke-width="1.05"/>
<circle cx="244.55" cy="188.60" r="1.55" fill="none" stroke="#231f20" stroke-width="1.1"/>
<circle cx="255.50" cy="190.50" r="1.55" fill="none" stroke="#231f20" stroke-width="1.1"/>
<rect x="264.95" y="184.90" width="3.0" height="3.0" fill="none" stroke="#231f20" stroke-width="1.05"/>
<circle cx="277.40" cy="191.10" r="1.55" fill="none" stroke="#231f20" stroke-width="1.1"/>
<circle cx="288.35" cy="190.10" r="1.55" fill="none" stroke="#231f20" stroke-width="1.1"/>
<rect x="297.80" y="186.40" width="3.0" height="3.0" fill="none" stroke="#231f20" stroke-width="1.05"/>
<rect x="308.75" y="186.70" width="3.0" height="3.0" fill="none" stroke="#231f20" stroke-width="1.05"/>
<rect x="319.70" y="180.70" width="3.0" height="3.0" fill="none" stroke="#231f20" stroke-width="1.05"/>
<circle cx="332.15" cy="185.40" r="1.55" fill="none" stroke="#231f20" stroke-width="1.1"/>
<polyline points="211.70,170.90 222.65,175.40 233.60,177.30 244.55,181.30 255.50,178.30 266.45,178.30 277.40,181.30 288.35,182.00 299.30,181.30 310.25,183.50 321.20,178.80 332.15,179.80" fill="none" stroke="#231f20" stroke-width="1.05"/>
<circle cx="211.70" cy="170.90" r="1.95" fill="#231f20"/>
<line x1="222.65" y1="172.80" x2="222.65" y2="178.00" stroke="#231f20" stroke-width="0.9"/>
<line x1="221.15" y1="172.80" x2="224.15" y2="172.80" stroke="#231f20" stroke-width="0.9"/>
<line x1="221.15" y1="178.00" x2="224.15" y2="178.00" stroke="#231f20" stroke-width="0.9"/>
<circle cx="222.65" cy="175.40" r="1.95" fill="#231f20"/>
<line x1="233.60" y1="172.30" x2="233.60" y2="182.30" stroke="#231f20" stroke-width="0.9"/>
<line x1="232.10" y1="172.30" x2="235.10" y2="172.30" stroke="#231f20" stroke-width="0.9"/>
<line x1="232.10" y1="182.30" x2="235.10" y2="182.30" stroke="#231f20" stroke-width="0.9"/>
<circle cx="233.60" cy="177.30" r="1.95" fill="#231f20"/>
<circle cx="244.55" cy="181.30" r="1.95" fill="#231f20"/>
<line x1="255.50" y1="175.20" x2="255.50" y2="181.40" stroke="#231f20" stroke-width="0.9"/>
<line x1="254.00" y1="175.20" x2="257.00" y2="175.20" stroke="#231f20" stroke-width="0.9"/>
<line x1="254.00" y1="181.40" x2="257.00" y2="181.40" stroke="#231f20" stroke-width="0.9"/>
<circle cx="255.50" cy="178.30" r="1.95" fill="#231f20"/>
<line x1="266.45" y1="177.10" x2="266.45" y2="179.50" stroke="#231f20" stroke-width="0.9"/>
<line x1="264.95" y1="177.10" x2="267.95" y2="177.10" stroke="#231f20" stroke-width="0.9"/>
<line x1="264.95" y1="179.50" x2="267.95" y2="179.50" stroke="#231f20" stroke-width="0.9"/>
<circle cx="266.45" cy="178.30" r="1.95" fill="#231f20"/>
<line x1="277.40" y1="179.80" x2="277.40" y2="182.80" stroke="#231f20" stroke-width="0.9"/>
<line x1="275.90" y1="179.80" x2="278.90" y2="179.80" stroke="#231f20" stroke-width="0.9"/>
<line x1="275.90" y1="182.80" x2="278.90" y2="182.80" stroke="#231f20" stroke-width="0.9"/>
<circle cx="277.40" cy="181.30" r="1.95" fill="#231f20"/>
<line x1="288.35" y1="178.90" x2="288.35" y2="185.10" stroke="#231f20" stroke-width="0.9"/>
<line x1="286.85" y1="178.90" x2="289.85" y2="178.90" stroke="#231f20" stroke-width="0.9"/>
<line x1="286.85" y1="185.10" x2="289.85" y2="185.10" stroke="#231f20" stroke-width="0.9"/>
<circle cx="288.35" cy="182.00" r="1.95" fill="#231f20"/>
<line x1="299.30" y1="179.10" x2="299.30" y2="183.50" stroke="#231f20" stroke-width="0.9"/>
<line x1="297.80" y1="179.10" x2="300.80" y2="179.10" stroke="#231f20" stroke-width="0.9"/>
<line x1="297.80" y1="183.50" x2="300.80" y2="183.50" stroke="#231f20" stroke-width="0.9"/>
<circle cx="299.30" cy="181.30" r="1.95" fill="#231f20"/>
<line x1="310.25" y1="181.90" x2="310.25" y2="185.10" stroke="#231f20" stroke-width="0.9"/>
<line x1="308.75" y1="181.90" x2="311.75" y2="181.90" stroke="#231f20" stroke-width="0.9"/>
<line x1="308.75" y1="185.10" x2="311.75" y2="185.10" stroke="#231f20" stroke-width="0.9"/>
<circle cx="310.25" cy="183.50" r="1.95" fill="#231f20"/>
<line x1="321.20" y1="177.80" x2="321.20" y2="179.80" stroke="#231f20" stroke-width="0.9"/>
<line x1="319.70" y1="177.80" x2="322.70" y2="177.80" stroke="#231f20" stroke-width="0.9"/>
<line x1="319.70" y1="179.80" x2="322.70" y2="179.80" stroke="#231f20" stroke-width="0.9"/>
<circle cx="321.20" cy="178.80" r="1.95" fill="#231f20"/>
<line x1="332.15" y1="178.00" x2="332.15" y2="181.60" stroke="#231f20" stroke-width="0.9"/>
<line x1="330.65" y1="178.00" x2="333.65" y2="178.00" stroke="#231f20" stroke-width="0.9"/>
<line x1="330.65" y1="181.60" x2="333.65" y2="181.60" stroke="#231f20" stroke-width="0.9"/>
<circle cx="332.15" cy="179.80" r="1.95" fill="#231f20"/>
<path d="M222.40,199.70 L222.40,198.00 M222.40,199.70 L224.02,199.17 M222.40,199.70 L223.40,201.08 M222.40,199.70 L221.40,201.08 M222.40,199.70 L220.78,199.17 " stroke="#231f20" stroke-width="0.95" stroke-linecap="round" fill="none"/>
<path d="M222.40,204.20 L222.40,202.50 M222.40,204.20 L224.02,203.67 M222.40,204.20 L223.40,205.58 M222.40,204.20 L221.40,205.58 M222.40,204.20 L220.78,203.67 " stroke="#231f20" stroke-width="0.95" stroke-linecap="round" fill="none"/>
<path d="M222.40,208.90 L222.40,207.20 M222.40,208.90 L224.02,208.37 M222.40,208.90 L223.40,210.28 M222.40,208.90 L221.40,210.28 M222.40,208.90 L220.78,208.37 " stroke="#231f20" stroke-width="0.95" stroke-linecap="round" fill="none"/>
<path d="M233.80,198.20 L233.80,196.50 M233.80,198.20 L235.42,197.67 M233.80,198.20 L234.80,199.58 M233.80,198.20 L232.80,199.58 M233.80,198.20 L232.18,197.67 " stroke="#231f20" stroke-width="0.95" stroke-linecap="round" fill="none"/>
<path d="M233.80,203.20 L233.80,201.50 M233.80,203.20 L235.42,202.67 M233.80,203.20 L234.80,204.58 M233.80,203.20 L232.80,204.58 M233.80,203.20 L232.18,202.67 " stroke="#231f20" stroke-width="0.95" stroke-linecap="round" fill="none"/>
<path d="M255.60,198.20 L255.60,196.50 M255.60,198.20 L257.22,197.67 M255.60,198.20 L256.60,199.58 M255.60,198.20 L254.60,199.58 M255.60,198.20 L253.98,197.67 " stroke="#231f20" stroke-width="0.95" stroke-linecap="round" fill="none"/>
<path d="M255.60,203.20 L255.60,201.50 M255.60,203.20 L257.22,202.67 M255.60,203.20 L256.60,204.58 M255.60,203.20 L254.60,204.58 M255.60,203.20 L253.98,202.67 " stroke="#231f20" stroke-width="0.95" stroke-linecap="round" fill="none"/>
<path d="M277.90,199.10 L277.90,197.40 M277.90,199.10 L279.52,198.57 M277.90,199.10 L278.90,200.48 M277.90,199.10 L276.90,200.48 M277.90,199.10 L276.28,198.57 " stroke="#231f20" stroke-width="0.95" stroke-linecap="round" fill="none"/>
<line x1="380.40" y1="160.20" x2="380.40" y2="247.60" stroke="#4d4d4d" stroke-width="0.8"/>
<line x1="380.40" y1="247.60" x2="512.80" y2="247.60" stroke="#4d4d4d" stroke-width="0.8"/>
<line x1="378.20" y1="247.60" x2="380.40" y2="247.60" stroke="#4d4d4d" stroke-width="0.8"/>
<text x="374.40" y="250.40" font-size="7.9" text-anchor="end" textLength="4.39" lengthAdjust="spacingAndGlyphs" fill="#2b2b2b">0</text>
<line x1="378.20" y1="235.12" x2="380.40" y2="235.12" stroke="#4d4d4d" stroke-width="0.8"/>
<text x="374.40" y="237.92" font-size="7.9" text-anchor="end" textLength="4.39" lengthAdjust="spacingAndGlyphs" fill="#2b2b2b">5</text>
<line x1="378.20" y1="222.63" x2="380.40" y2="222.63" stroke="#4d4d4d" stroke-width="0.8"/>
<text x="374.40" y="225.43" font-size="7.9" text-anchor="end" textLength="6.99" lengthAdjust="spacingAndGlyphs" fill="#2b2b2b">10</text>
<line x1="378.20" y1="210.14" x2="380.40" y2="210.14" stroke="#4d4d4d" stroke-width="0.8"/>
<text x="374.40" y="212.94" font-size="7.9" text-anchor="end" textLength="6.99" lengthAdjust="spacingAndGlyphs" fill="#2b2b2b">15</text>
<line x1="378.20" y1="197.66" x2="380.40" y2="197.66" stroke="#4d4d4d" stroke-width="0.8"/>
<text x="374.40" y="200.46" font-size="7.9" text-anchor="end" textLength="8.79" lengthAdjust="spacingAndGlyphs" fill="#2b2b2b">20</text>
<line x1="378.20" y1="185.18" x2="380.40" y2="185.18" stroke="#4d4d4d" stroke-width="0.8"/>
<text x="374.40" y="187.98" font-size="7.9" text-anchor="end" textLength="8.79" lengthAdjust="spacingAndGlyphs" fill="#2b2b2b">25</text>
<line x1="378.20" y1="172.69" x2="380.40" y2="172.69" stroke="#4d4d4d" stroke-width="0.8"/>
<text x="374.40" y="175.49" font-size="7.9" text-anchor="end" textLength="8.79" lengthAdjust="spacingAndGlyphs" fill="#2b2b2b">30</text>
<line x1="378.20" y1="160.20" x2="380.40" y2="160.20" stroke="#4d4d4d" stroke-width="0.8"/>
<text x="374.40" y="163.00" font-size="7.9" text-anchor="end" textLength="8.79" lengthAdjust="spacingAndGlyphs" fill="#2b2b2b">35</text>
<line x1="385.30" y1="247.60" x2="385.30" y2="249.90" stroke="#4d4d4d" stroke-width="0.8"/>
<line x1="395.48" y1="247.60" x2="395.48" y2="249.90" stroke="#4d4d4d" stroke-width="0.8"/>
<line x1="405.65" y1="247.60" x2="405.65" y2="249.90" stroke="#4d4d4d" stroke-width="0.8"/>
<line x1="415.82" y1="247.60" x2="415.82" y2="249.90" stroke="#4d4d4d" stroke-width="0.8"/>
<line x1="426.00" y1="247.60" x2="426.00" y2="249.90" stroke="#4d4d4d" stroke-width="0.8"/>
<line x1="436.18" y1="247.60" x2="436.18" y2="249.90" stroke="#4d4d4d" stroke-width="0.8"/>
<line x1="446.35" y1="247.60" x2="446.35" y2="249.90" stroke="#4d4d4d" stroke-width="0.8"/>
<line x1="456.52" y1="247.60" x2="456.52" y2="249.90" stroke="#4d4d4d" stroke-width="0.8"/>
<line x1="466.70" y1="247.60" x2="466.70" y2="249.90" stroke="#4d4d4d" stroke-width="0.8"/>
<line x1="476.88" y1="247.60" x2="476.88" y2="249.90" stroke="#4d4d4d" stroke-width="0.8"/>
<line x1="487.05" y1="247.60" x2="487.05" y2="249.90" stroke="#4d4d4d" stroke-width="0.8"/>
<line x1="497.23" y1="247.60" x2="497.23" y2="249.90" stroke="#4d4d4d" stroke-width="0.8"/>
<line x1="507.40" y1="247.60" x2="507.40" y2="249.90" stroke="#4d4d4d" stroke-width="0.8"/>
<text x="385.30" y="260.20" font-size="7.9" text-anchor="middle" textLength="2.59" lengthAdjust="spacingAndGlyphs" fill="#2b2b2b">1</text>
<text x="396.40" y="260.20" font-size="7.9" text-anchor="middle" textLength="4.39" lengthAdjust="spacingAndGlyphs" fill="#2b2b2b">2</text>
<text x="407.50" y="260.20" font-size="7.9" text-anchor="middle" textLength="4.39" lengthAdjust="spacingAndGlyphs" fill="#2b2b2b">3</text>
<text x="418.60" y="260.20" font-size="7.9" text-anchor="middle" textLength="4.39" lengthAdjust="spacingAndGlyphs" fill="#2b2b2b">4</text>
<text x="429.70" y="260.20" font-size="7.9" text-anchor="middle" textLength="4.39" lengthAdjust="spacingAndGlyphs" fill="#2b2b2b">5</text>
<text x="440.80" y="260.20" font-size="7.9" text-anchor="middle" textLength="4.39" lengthAdjust="spacingAndGlyphs" fill="#2b2b2b">6</text>
<text x="451.90" y="260.20" font-size="7.9" text-anchor="middle" textLength="4.39" lengthAdjust="spacingAndGlyphs" fill="#2b2b2b">7</text>
<text x="463.00" y="260.20" font-size="7.9" text-anchor="middle" textLength="4.39" lengthAdjust="spacingAndGlyphs" fill="#2b2b2b">8</text>
<text x="474.10" y="260.20" font-size="7.9" text-anchor="middle" textLength="4.39" lengthAdjust="spacingAndGlyphs" fill="#2b2b2b">9</text>
<text x="485.20" y="260.20" font-size="7.9" text-anchor="middle" textLength="6.99" lengthAdjust="spacingAndGlyphs" fill="#2b2b2b">10</text>
<text x="496.30" y="260.20" font-size="7.9" text-anchor="middle" textLength="4.60" lengthAdjust="spacingAndGlyphs" fill="#2b2b2b">11</text>
<text x="507.40" y="260.20" font-size="7.9" text-anchor="middle" textLength="6.99" lengthAdjust="spacingAndGlyphs" fill="#2b2b2b">12</text>
<text x="446.60" y="153.10" font-size="8.6" text-anchor="middle" textLength="34.5" lengthAdjust="spacingAndGlyphs" fill="#231f20">Fat mass</text>
<text x="381.80" y="168.20" font-size="8.6" textLength="85.0" lengthAdjust="spacingAndGlyphs" fill="#231f20">Genotype <tspan font-style="italic">P</tspan> = 0.0003</text>
<text transform="translate(358.90,201.60) rotate(-90)" x="0" y="0" font-size="8.4" text-anchor="middle" textLength="47.2" lengthAdjust="spacingAndGlyphs" fill="#231f20">Fat mass (g)</text>
<polyline points="385.60,242.60 416.00,234.70 446.00,227.10 476.50,220.70 507.60,213.20" fill="none" stroke="#231f20" stroke-width="1.05"/>
<circle cx="385.60" cy="242.60" r="1.55" fill="none" stroke="#231f20" stroke-width="1.1"/>
<circle cx="416.00" cy="234.70" r="1.55" fill="none" stroke="#231f20" stroke-width="1.1"/>
<line x1="446.00" y1="226.10" x2="446.00" y2="228.10" stroke="#231f20" stroke-width="0.9"/>
<line x1="444.50" y1="226.10" x2="447.50" y2="226.10" stroke="#231f20" stroke-width="0.9"/>
<line x1="444.50" y1="228.10" x2="447.50" y2="228.10" stroke="#231f20" stroke-width="0.9"/>
<circle cx="446.00" cy="227.10" r="1.55" fill="none" stroke="#231f20" stroke-width="1.1"/>
<line x1="476.50" y1="218.50" x2="476.50" y2="222.90" stroke="#231f20" stroke-width="0.9"/>
<line x1="475.00" y1="218.50" x2="478.00" y2="218.50" stroke="#231f20" stroke-width="0.9"/>
<line x1="475.00" y1="222.90" x2="478.00" y2="222.90" stroke="#231f20" stroke-width="0.9"/>
<rect x="475.00" y="219.20" width="3.0" height="3.0" fill="none" stroke="#231f20" stroke-width="1.05"/>
<line x1="507.60" y1="210.60" x2="507.60" y2="215.80" stroke="#231f20" stroke-width="0.9"/>
<line x1="506.10" y1="210.60" x2="509.10" y2="210.60" stroke="#231f20" stroke-width="0.9"/>
<line x1="506.10" y1="215.80" x2="509.10" y2="215.80" stroke="#231f20" stroke-width="0.9"/>
<circle cx="507.60" cy="213.20" r="1.55" fill="none" stroke="#231f20" stroke-width="1.1"/>
<polyline points="385.60,242.60 416.00,225.20 446.00,210.40 476.50,202.00 507.60,196.50" fill="none" stroke="#231f20" stroke-width="1.05"/>
<circle cx="385.60" cy="242.60" r="1.95" fill="#231f20"/>
<line x1="416.00" y1="222.90" x2="416.00" y2="227.50" stroke="#231f20" stroke-width="0.9"/>
<line x1="414.50" y1="222.90" x2="417.50" y2="222.90" stroke="#231f20" stroke-width="0.9"/>
<line x1="414.50" y1="227.50" x2="417.50" y2="227.50" stroke="#231f20" stroke-width="0.9"/>
<circle cx="416.00" cy="225.20" r="1.95" fill="#231f20"/>
<line x1="446.00" y1="208.00" x2="446.00" y2="212.80" stroke="#231f20" stroke-width="0.9"/>
<line x1="444.50" y1="208.00" x2="447.50" y2="208.00" stroke="#231f20" stroke-width="0.9"/>
<line x1="444.50" y1="212.80" x2="447.50" y2="212.80" stroke="#231f20" stroke-width="0.9"/>
<circle cx="446.00" cy="210.40" r="1.95" fill="#231f20"/>
<line x1="476.50" y1="199.20" x2="476.50" y2="204.80" stroke="#231f20" stroke-width="0.9"/>
<line x1="475.00" y1="199.20" x2="478.00" y2="199.20" stroke="#231f20" stroke-width="0.9"/>
<line x1="475.00" y1="204.80" x2="478.00" y2="204.80" stroke="#231f20" stroke-width="0.9"/>
<circle cx="476.50" cy="202.00" r="1.95" fill="#231f20"/>
<line x1="507.60" y1="194.90" x2="507.60" y2="198.10" stroke="#231f20" stroke-width="0.9"/>
<line x1="506.10" y1="194.90" x2="509.10" y2="194.90" stroke="#231f20" stroke-width="0.9"/>
<line x1="506.10" y1="198.10" x2="509.10" y2="198.10" stroke="#231f20" stroke-width="0.9"/>
<circle cx="507.60" cy="196.50" r="1.95" fill="#231f20"/>
<path d="M415.60,242.00 L415.60,240.25 M415.60,242.00 L417.26,241.46 M415.60,242.00 L416.63,243.42 M415.60,242.00 L414.57,243.42 M415.60,242.00 L413.94,241.46 " stroke="#231f20" stroke-width="1.0" stroke-linecap="round" fill="none"/>
<line x1="421.50" y1="241.60" x2="506.80" y2="241.60" stroke="#231f20" stroke-width="1.5"/>
<line x1="551.80" y1="160.20" x2="551.80" y2="247.60" stroke="#4d4d4d" stroke-width="0.8"/>
<line x1="551.80" y1="247.60" x2="685.50" y2="247.60" stroke="#4d4d4d" stroke-width="0.8"/>
<line x1="549.60" y1="247.60" x2="551.80" y2="247.60" stroke="#4d4d4d" stroke-width="0.8"/>
<text x="545.80" y="250.40" font-size="7.9" text-anchor="end" textLength="4.39" lengthAdjust="spacingAndGlyphs" fill="#2b2b2b">0</text>
<line x1="549.60" y1="235.12" x2="551.80" y2="235.12" stroke="#4d4d4d" stroke-width="0.8"/>
<text x="545.80" y="237.92" font-size="7.9" text-anchor="end" textLength="4.39" lengthAdjust="spacingAndGlyphs" fill="#2b2b2b">5</text>
<line x1="549.60" y1="222.63" x2="551.80" y2="222.63" stroke="#4d4d4d" stroke-width="0.8"/>
<text x="545.80" y="225.43" font-size="7.9" text-anchor="end" textLength="6.99" lengthAdjust="spacingAndGlyphs" fill="#2b2b2b">10</text>
<line x1="549.60" y1="210.14" x2="551.80" y2="210.14" stroke="#4d4d4d" stroke-width="0.8"/>
<text x="545.80" y="212.94" font-size="7.9" text-anchor="end" textLength="6.99" lengthAdjust="spacingAndGlyphs" fill="#2b2b2b">15</text>
<line x1="549.60" y1="197.66" x2="551.80" y2="197.66" stroke="#4d4d4d" stroke-width="0.8"/>
<text x="545.80" y="200.46" font-size="7.9" text-anchor="end" textLength="8.79" lengthAdjust="spacingAndGlyphs" fill="#2b2b2b">20</text>
<line x1="549.60" y1="185.18" x2="551.80" y2="185.18" stroke="#4d4d4d" stroke-width="0.8"/>
<text x="545.80" y="187.98" font-size="7.9" text-anchor="end" textLength="8.79" lengthAdjust="spacingAndGlyphs" fill="#2b2b2b">25</text>
<line x1="549.60" y1="172.69" x2="551.80" y2="172.69" stroke="#4d4d4d" stroke-width="0.8"/>
<text x="545.80" y="175.49" font-size="7.9" text-anchor="end" textLength="8.79" lengthAdjust="spacingAndGlyphs" fill="#2b2b2b">30</text>
<line x1="549.60" y1="160.20" x2="551.80" y2="160.20" stroke="#4d4d4d" stroke-width="0.8"/>
<text x="545.80" y="163.00" font-size="7.9" text-anchor="end" textLength="8.79" lengthAdjust="spacingAndGlyphs" fill="#2b2b2b">35</text>
<line x1="557.40" y1="247.60" x2="557.40" y2="249.90" stroke="#4d4d4d" stroke-width="0.8"/>
<line x1="567.57" y1="247.60" x2="567.57" y2="249.90" stroke="#4d4d4d" stroke-width="0.8"/>
<line x1="577.73" y1="247.60" x2="577.73" y2="249.90" stroke="#4d4d4d" stroke-width="0.8"/>
<line x1="587.90" y1="247.60" x2="587.90" y2="249.90" stroke="#4d4d4d" stroke-width="0.8"/>
<line x1="598.06" y1="247.60" x2="598.06" y2="249.90" stroke="#4d4d4d" stroke-width="0.8"/>
<line x1="608.23" y1="247.60" x2="608.23" y2="249.90" stroke="#4d4d4d" stroke-width="0.8"/>
<line x1="618.39" y1="247.60" x2="618.39" y2="249.90" stroke="#4d4d4d" stroke-width="0.8"/>
<line x1="628.56" y1="247.60" x2="628.56" y2="249.90" stroke="#4d4d4d" stroke-width="0.8"/>
<line x1="638.73" y1="247.60" x2="638.73" y2="249.90" stroke="#4d4d4d" stroke-width="0.8"/>
<line x1="648.89" y1="247.60" x2="648.89" y2="249.90" stroke="#4d4d4d" stroke-width="0.8"/>
<line x1="659.06" y1="247.60" x2="659.06" y2="249.90" stroke="#4d4d4d" stroke-width="0.8"/>
<line x1="669.22" y1="247.60" x2="669.22" y2="249.90" stroke="#4d4d4d" stroke-width="0.8"/>
<line x1="679.39" y1="247.60" x2="679.39" y2="249.90" stroke="#4d4d4d" stroke-width="0.8"/>
<text x="557.40" y="260.20" font-size="7.9" text-anchor="middle" textLength="2.59" lengthAdjust="spacingAndGlyphs" fill="#2b2b2b">1</text>
<text x="568.49" y="260.20" font-size="7.9" text-anchor="middle" textLength="4.39" lengthAdjust="spacingAndGlyphs" fill="#2b2b2b">2</text>
<text x="579.58" y="260.20" font-size="7.9" text-anchor="middle" textLength="4.39" lengthAdjust="spacingAndGlyphs" fill="#2b2b2b">3</text>
<text x="590.67" y="260.20" font-size="7.9" text-anchor="middle" textLength="4.39" lengthAdjust="spacingAndGlyphs" fill="#2b2b2b">4</text>
<text x="601.76" y="260.20" font-size="7.9" text-anchor="middle" textLength="4.39" lengthAdjust="spacingAndGlyphs" fill="#2b2b2b">5</text>
<text x="612.85" y="260.20" font-size="7.9" text-anchor="middle" textLength="4.39" lengthAdjust="spacingAndGlyphs" fill="#2b2b2b">6</text>
<text x="623.94" y="260.20" font-size="7.9" text-anchor="middle" textLength="4.39" lengthAdjust="spacingAndGlyphs" fill="#2b2b2b">7</text>
<text x="635.03" y="260.20" font-size="7.9" text-anchor="middle" textLength="4.39" lengthAdjust="spacingAndGlyphs" fill="#2b2b2b">8</text>
<text x="646.12" y="260.20" font-size="7.9" text-anchor="middle" textLength="4.39" lengthAdjust="spacingAndGlyphs" fill="#2b2b2b">9</text>
<text x="657.21" y="260.20" font-size="7.9" text-anchor="middle" textLength="6.99" lengthAdjust="spacingAndGlyphs" fill="#2b2b2b">10</text>
<text x="668.30" y="260.20" font-size="7.9" text-anchor="middle" textLength="4.60" lengthAdjust="spacingAndGlyphs" fill="#2b2b2b">11</text>
<text x="679.39" y="260.20" font-size="7.9" text-anchor="middle" textLength="6.99" lengthAdjust="spacingAndGlyphs" fill="#2b2b2b">12</text>
<text x="618.40" y="153.10" font-size="8.6" text-anchor="middle" textLength="41.4" lengthAdjust="spacingAndGlyphs" fill="#231f20">Lean mass</text>
<text x="554.30" y="168.20" font-size="8.6" textLength="81.8" lengthAdjust="spacingAndGlyphs" fill="#231f20">Genotype <tspan font-style="italic">P</tspan> = 0.0012</text>
<text transform="translate(530.40,201.10) rotate(-90)" x="0" y="0" font-size="8.4" text-anchor="middle" textLength="55.8" lengthAdjust="spacingAndGlyphs" fill="#231f20">Lean mass (g)</text>
<polyline points="557.50,190.70 588.10,188.90 618.40,186.80 649.00,185.20 679.20,182.40" fill="none" stroke="#231f20" stroke-width="1.05"/>
<circle cx="557.50" cy="190.70" r="1.55" fill="none" stroke="#231f20" stroke-width="1.1"/>
<circle cx="588.10" cy="188.90" r="1.55" fill="none" stroke="#231f20" stroke-width="1.1"/>
<circle cx="618.40" cy="186.80" r="1.55" fill="none" stroke="#231f20" stroke-width="1.1"/>
<circle cx="649.00" cy="185.20" r="1.55" fill="none" stroke="#231f20" stroke-width="1.1"/>
<circle cx="679.20" cy="182.40" r="1.55" fill="none" stroke="#231f20" stroke-width="1.1"/>
<polyline points="557.50,186.40 588.10,184.80 618.40,181.20 649.00,177.90 679.20,173.40" fill="none" stroke="#231f20" stroke-width="1.05"/>
<circle cx="557.50" cy="186.40" r="1.95" fill="#231f20"/>
<circle cx="588.10" cy="184.80" r="1.95" fill="#231f20"/>
<circle cx="618.40" cy="181.20" r="1.95" fill="#231f20"/>
<line x1="649.00" y1="176.30" x2="649.00" y2="179.50" stroke="#231f20" stroke-width="0.9"/>
<line x1="647.50" y1="176.30" x2="650.50" y2="176.30" stroke="#231f20" stroke-width="0.9"/>
<line x1="647.50" y1="179.50" x2="650.50" y2="179.50" stroke="#231f20" stroke-width="0.9"/>
<circle cx="649.00" cy="177.90" r="1.95" fill="#231f20"/>
<line x1="679.20" y1="171.20" x2="679.20" y2="175.60" stroke="#231f20" stroke-width="0.9"/>
<line x1="677.70" y1="171.20" x2="680.70" y2="171.20" stroke="#231f20" stroke-width="0.9"/>
<line x1="677.70" y1="175.60" x2="680.70" y2="175.60" stroke="#231f20" stroke-width="0.9"/>
<circle cx="679.20" cy="173.40" r="1.95" fill="#231f20"/>
<path d="M616.40,242.60 L616.40,240.85 M616.40,242.60 L618.06,242.06 M616.40,242.60 L617.43,244.02 M616.40,242.60 L615.37,244.02 M616.40,242.60 L614.74,242.06 " stroke="#231f20" stroke-width="1.0" stroke-linecap="round" fill="none"/>
<line x1="621.60" y1="242.00" x2="679.60" y2="242.00" stroke="#231f20" stroke-width="1.5"/>
<text x="618.60" y="271.80" font-size="8.6" text-anchor="middle" textLength="123" lengthAdjust="spacingAndGlyphs" fill="#231f20">Length of HFD feeding (weeks)</text>
<text x="272.60" y="271.80" font-size="8.6" text-anchor="middle" textLength="122.8" lengthAdjust="spacingAndGlyphs" fill="#231f20">Length of HFD feeding (weeks)</text>
<text x="446.00" y="271.80" font-size="8.6" text-anchor="middle" textLength="122.5" lengthAdjust="spacingAndGlyphs" fill="#231f20">Length of HFD feeding (weeks)</text>
<line x1="316.50" y1="286.90" x2="326.70" y2="286.90" stroke="#231f20" stroke-width="0.95"/>
<circle cx="321.80" cy="286.90" r="1.8" fill="#231f20"/>
<text x="332.00" y="289.80" font-size="8.6" textLength="16.5" lengthAdjust="spacingAndGlyphs" fill="#231f20"><tspan font-style="italic">Gipr</tspan></text>
<text x="348.80" y="285.90" font-size="5.4" textLength="9.3" lengthAdjust="spacingAndGlyphs" fill="#231f20">fl/fl</text>
<line x1="371.40" y1="286.90" x2="381.60" y2="286.90" stroke="#231f20" stroke-width="0.95"/>
<circle cx="376.40" cy="286.90" r="1.55" fill="#fff" stroke="#231f20" stroke-width="0.85"/>
<text x="386.60" y="289.80" font-size="8.6" textLength="16.5" lengthAdjust="spacingAndGlyphs" fill="#231f20"><tspan font-style="italic">Gipr</tspan></text>
<text x="403.30" y="285.90" font-size="5.4" textLength="20.3" lengthAdjust="spacingAndGlyphs" fill="#231f20">Syn–/–</text>
</svg></body></html>
